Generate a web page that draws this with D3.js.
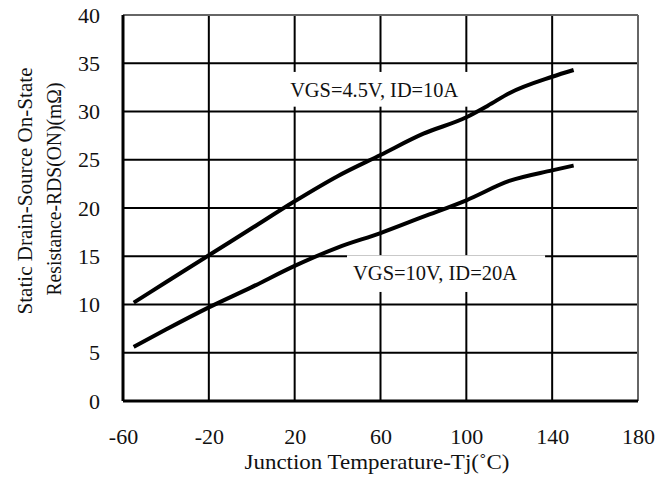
<!DOCTYPE html>
<html>
<head>
<meta charset="utf-8">
<script src="https://cdn.jsdelivr.net/npm/d3@7"></script>
<style>
  body { margin: 0; background: #fff; }
  text { font-family: "Liberation Serif", "DejaVu Serif", serif; fill: #111; }
</style>
</head>
<body>
<div id="chart"></div>
<script>
// values
var tempTicks = [-60, -20, 20, 60, 100, 140, 180]
var resTicks = [0, 5, 10, 15, 20, 25, 30, 35, 40]

var temps45 = [-55, -40, -20, 0, 20, 40, 60, 80, 100, 110, 120, 140, 150]
var rds45 = [10.2, 12.3, 15.1, 17.9, 20.7, 23.3, 25.5, 27.7, 29.4, 30.6, 31.9, 33.6, 34.3]

var temps10 = [-55, -40, -20, 0, 20, 40, 60, 80, 100, 120, 140, 150]
var rds10 = [5.6, 7.4, 9.7, 11.8, 14.0, 15.9, 17.4, 19.1, 20.8, 22.8, 23.9, 24.4]

var labels = ["VGS=4.5V, ID=10A", "VGS=10V, ID=20A"]

var W = 669, H = 484
var svg = d3.select('#chart').append('svg').attr('width', W).attr('height', H)

var x = d3.scaleLinear().domain([-60, 180]).range([123, 638])
var y = d3.scaleLinear().domain([0, 40]).range([401, 15])

// grid
var grid = svg.append('g')
grid.selectAll('line.v').data(tempTicks.slice(1, -1)).enter().append('line')
  .attr('x1', d => x(d)).attr('x2', d => x(d)).attr('y1', y(0)).attr('y2', y(40))
  .attr('stroke', '#000').attr('stroke-width', 2)
grid.selectAll('line.h').data(resTicks.slice(1, -1)).enter().append('line')
  .attr('x1', x(-60)).attr('x2', x(180)).attr('y1', d => y(d)).attr('y2', d => y(d))
  .attr('stroke', '#000').attr('stroke-width', 2)

// frame
svg.append('line').attr('x1', x(-60)).attr('x2', x(180)).attr('y1', y(40)).attr('y2', y(40))
  .attr('stroke', '#666').attr('stroke-width', 2)
svg.append('line').attr('x1', x(180)).attr('x2', x(180)).attr('y1', y(0)).attr('y2', y(40))
  .attr('stroke', '#666').attr('stroke-width', 2)
svg.append('line').attr('x1', x(-60)).attr('x2', x(-60)).attr('y1', y(0)).attr('y2', y(40))
  .attr('stroke', '#000').attr('stroke-width', 3)
svg.append('line').attr('x1', x(-60)).attr('x2', x(180)).attr('y1', y(0)).attr('y2', y(0))
  .attr('stroke', '#000').attr('stroke-width', 3)

// axes (labels only), plain hyphen for negatives like the datasheet
var fmt = d => String(d)
svg.append('g').attr('transform', 'translate(0,' + y(0) + ')')
  .call(d3.axisBottom(x).tickValues(tempTicks).tickSize(0).tickPadding(27).tickFormat(fmt))
svg.append('g').attr('transform', 'translate(' + x(-60) + ',0)')
  .call(d3.axisLeft(y).tickValues(resTicks).tickSize(0).tickPadding(23).tickFormat(fmt))
svg.selectAll('.domain').remove()
svg.selectAll('.tick text').attr('font-size', 22).attr('fill', '#111')
  .style('font-family', '"Liberation Serif", serif')

// label boxes
var box1 = svg.append('g')
box1.append('rect').attr('x', x(13.2)).attr('y', y(34.1))
  .attr('width', x(100.9) - x(13.2)).attr('height', y(30.5) - y(34.1)).attr('fill', '#fff')
box1.append('text').attr('x', x(17.9)).attr('y', y(31.5)).attr('font-size', 22)
  .attr('textLength', 168).attr('lengthAdjust', 'spacingAndGlyphs').text(labels[0])

var box2 = svg.append('g')
box2.append('rect').attr('x', x(44.4)).attr('y', y(15.1))
  .attr('width', x(136.7) - x(44.4)).attr('height', y(11.3) - y(15.1)).attr('fill', '#fff')
box2.append('text').attr('x', x(47.2)).attr('y', y(12.5)).attr('font-size', 22)
  .attr('textLength', 164).attr('lengthAdjust', 'spacingAndGlyphs').text(labels[1])

// curves
var line = d3.line().x(d => x(d[0])).y(d => y(d[1])).curve(d3.curveMonotoneX)
svg.append('path').datum(d3.zip(temps45, rds45)).attr('d', line)
  .attr('fill', 'none').attr('stroke', '#000').attr('stroke-width', 4)
svg.append('path').datum(d3.zip(temps10, rds10)).attr('d', line)
  .attr('fill', 'none').attr('stroke', '#000').attr('stroke-width', 4)

// titles
svg.append('text').attr('x', 377).attr('y', 469).attr('text-anchor', 'middle')
  .attr('font-size', 22).attr('textLength', 265).attr('lengthAdjust', 'spacingAndGlyphs')
  .text('Junction Temperature-Tj(˚C)')

var yt = svg.append('g').attr('transform', 'translate(0,191) rotate(-90)')
yt.append('text').attr('x', 0).attr('y', 32).attr('text-anchor', 'middle')
  .attr('font-size', 22).attr('textLength', 247).attr('lengthAdjust', 'spacingAndGlyphs')
  .text('Static Drain-Source On-State')
yt.append('text').attr('x', 2).attr('y', 61).attr('text-anchor', 'middle')
  .attr('font-size', 22).attr('textLength', 213).attr('lengthAdjust', 'spacingAndGlyphs')
  .text('Resistance-RDS(ON)(mΩ)')
</script>
</body>
</html>
